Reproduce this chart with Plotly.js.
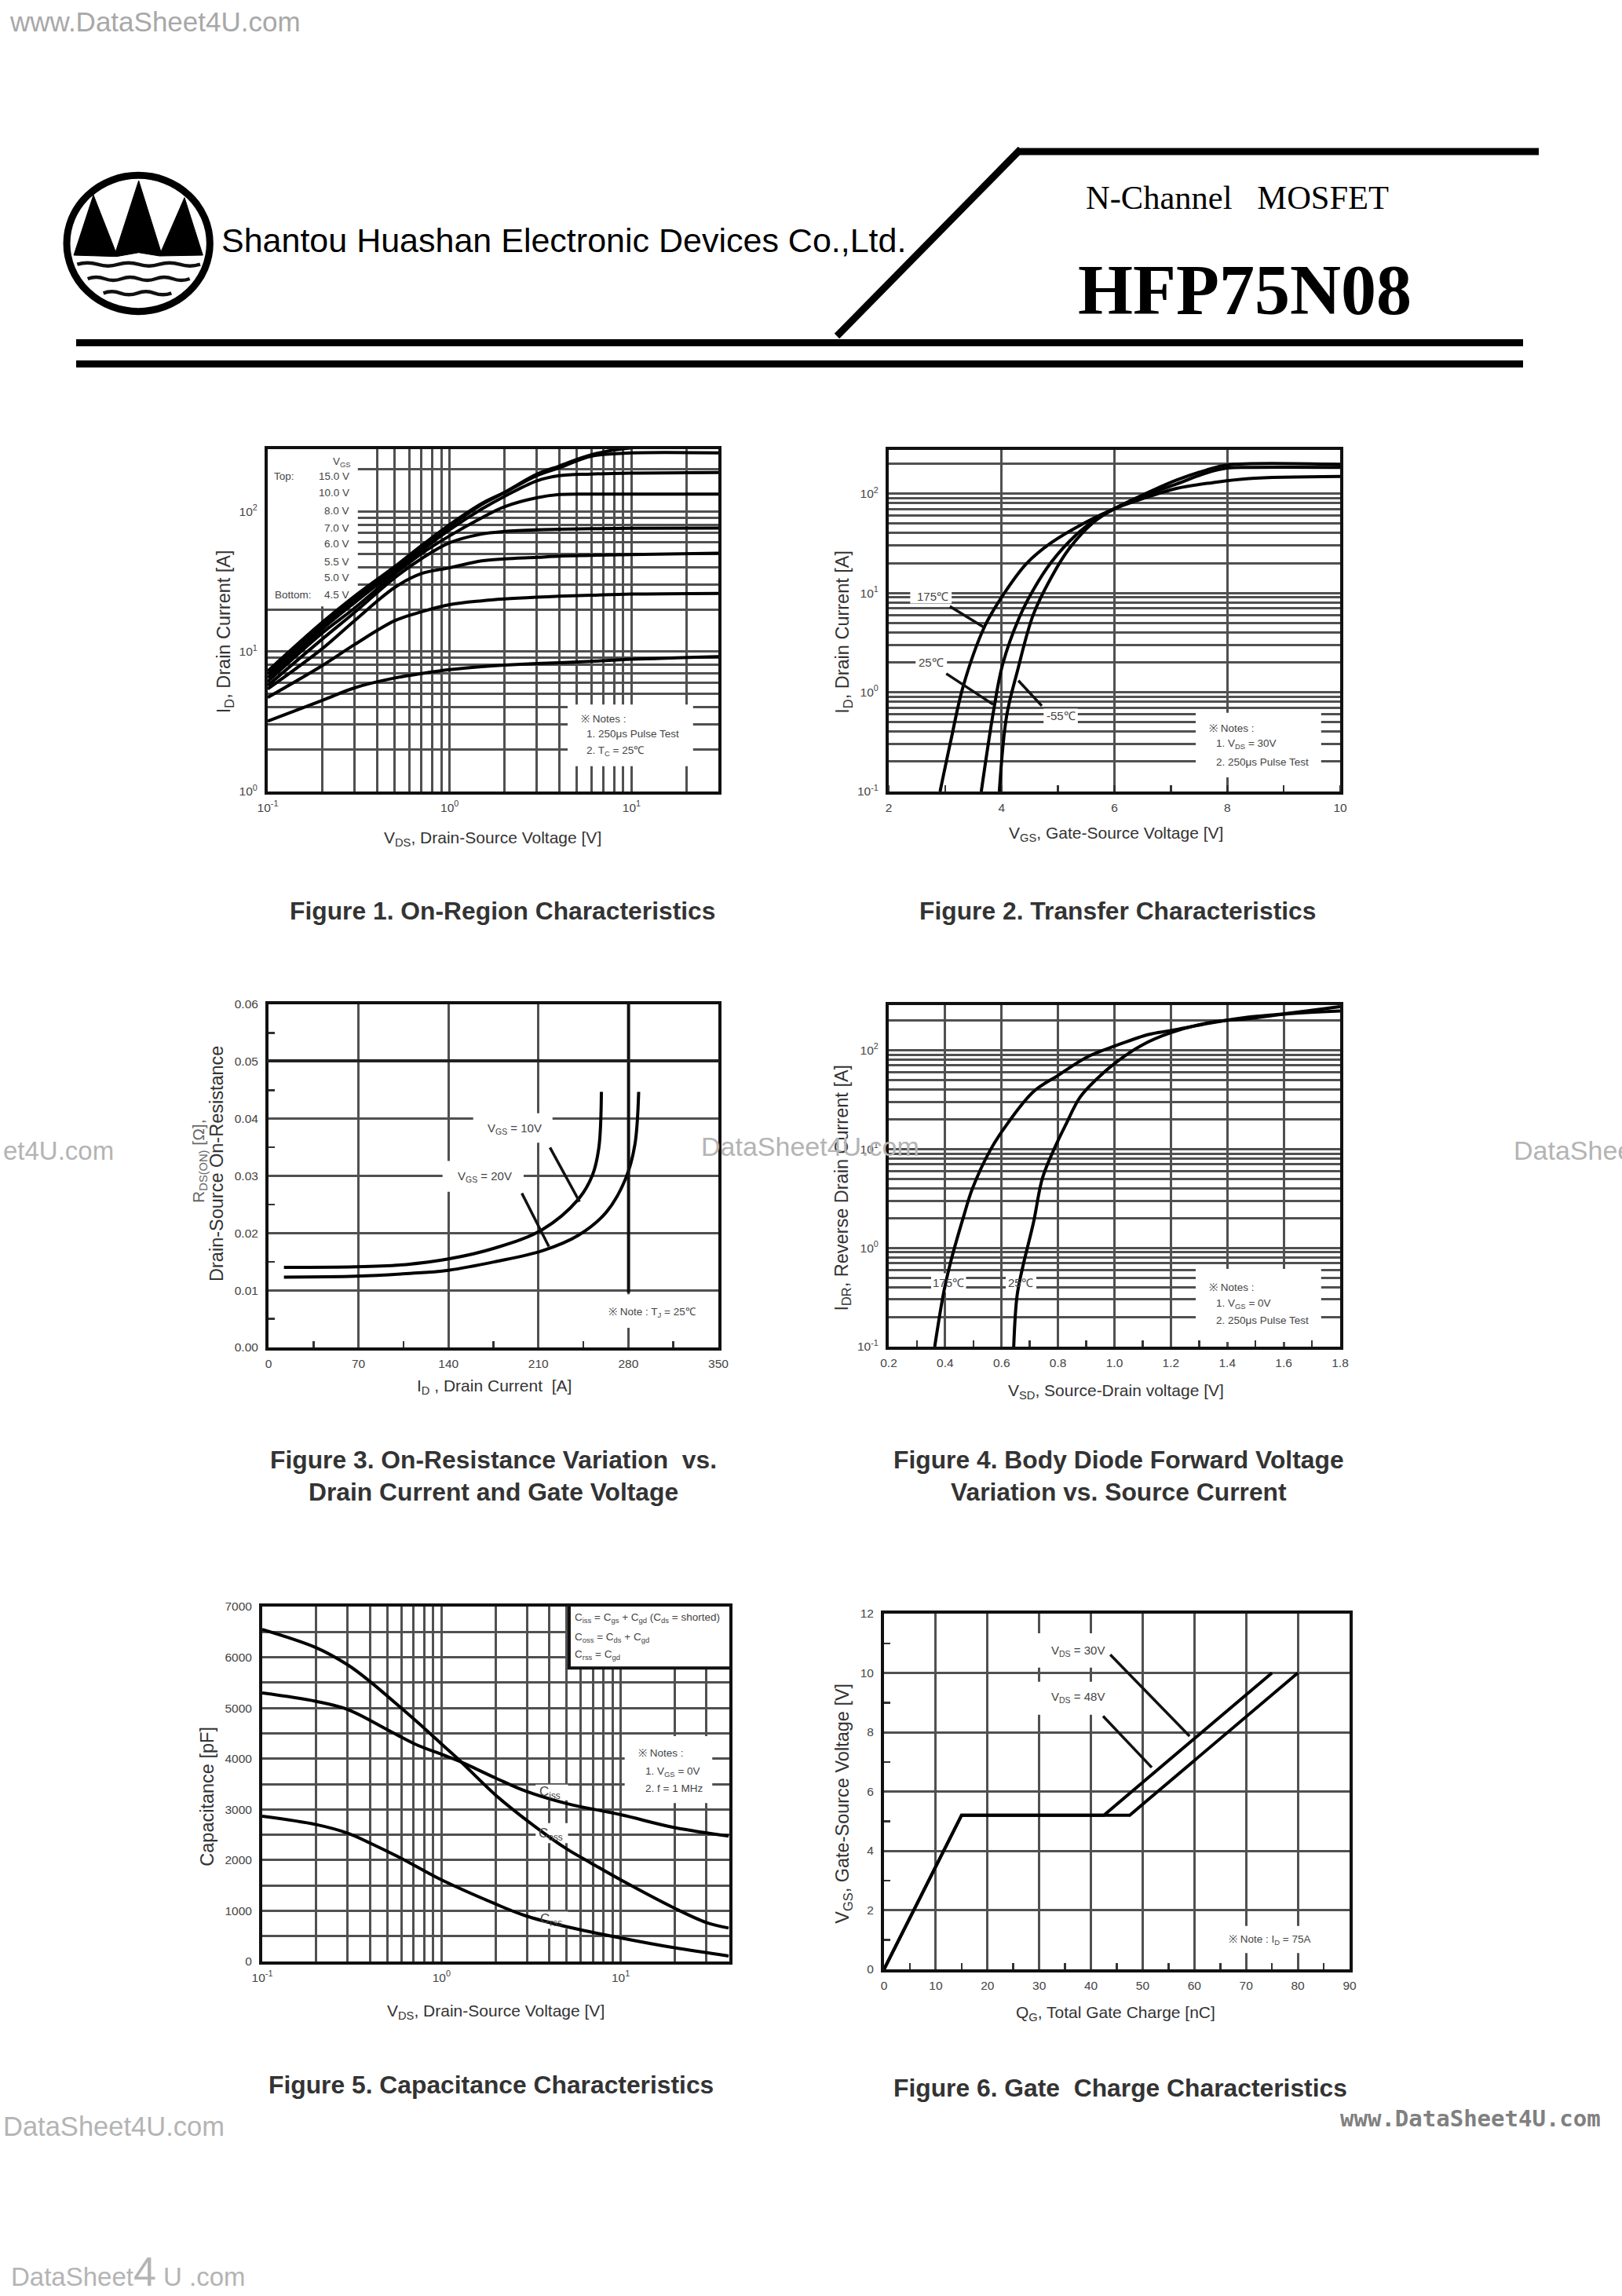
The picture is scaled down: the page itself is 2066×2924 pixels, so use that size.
<!DOCTYPE html>
<html><head><meta charset="utf-8">
<script src="https://cdn.plot.ly/plotly-3.0.1.min.js"></script>
<style>html,body{margin:0;padding:0;background:#fff}#g{width:2066px;height:2924px}</style>
</head><body><div id="g"></div>
<script>
// ---------- data ----------
const fig1V = [0.1,0.2,0.3,0.5,0.7,1,1.5,2,3,4,6,10,30];
const fig1_45V = [3.18,4.48,5.5,6.47,6.95,7.42,7.8,8.0,8.2,8.3,8.5,8.8,9.2];
const fig1_50V = [4.7,7.95,11.2,16.6,19.2,21.6,23,23.7,24.4,24.8,25.2,25.7,26];
const fig1_55V = [5.4,10.5,16.6,28.7,36,39.6,44.4,45.8,47,48,48.6,49.3,50.3];
const fig1_60V = [5.7,12.3,19,33.7,46,59.8,69,72,74,74.6,75.3,75.9,76];
const fig1_70V = [6.1,13.6,20.4,35.8,50,67,90,108,125,132,133,133,133];
const fig1_80V = [6.5,14.5,22.3,37.5,52.5,74,104,128,165,180,185,188,190];
const fig1_100V = [6.9,15.3,23.5,39,55,78,112,136,180,205,248,262,262];
const fig1_150V = [7.25,16.2,24.8,40.5,57,80.6,114,137,184,211,254,285,290];

const fig2_175X = [2.91,3.1,3.32,3.7,4.02,4.44,4.88,5.45,6,6.6,7.1,7.74,8.38,10];
const fig2_175Y = [0.1,0.324,1.15,4.6,9.4,19.7,32,50,70.5,93,113,129,142,149];
const fig2_25X = [3.64,3.86,4.02,4.31,4.56,4.88,5.33,5.64,6,6.6,7.1,7.62,8,8.38,10];
const fig2_25Y = [0.1,0.66,1.92,5.6,10.7,20.4,38.9,53.7,70.5,99,125,161,181,184,184];
const fig2_m55X = [3.96,4.09,4.28,4.56,4.88,5.2,5.64,6,6.6,7.1,7.62,8,10];
const fig2_m55Y = [0.1,0.58,1.63,6,14.3,28,52,70.5,103,137,172,194,196];

const fig3_10X = [12,68,107,140,176.5,213,241,252,257,259];
const fig3_10Y = [0.0140,0.0141,0.0145,0.01547,0.0174,0.0206,0.0259,0.0301,0.0349,0.0447];
const fig3_20X = [12,68,107,140,176.5,213,241,263,278,285,288];
const fig3_20Y = [0.0123,0.01246,0.0129,0.0135,0.015,0.0169,0.0196,0.0237,0.0296,0.0354,0.0447];

const fig4_175X = [0.363,0.395,0.42,0.465,0.496,0.56,0.624,0.713,0.802,0.904,1.005,1.12,1.2,1.349,1.476,1.603,1.8];
const fig4_175Y = [0.1,0.356,0.728,2.06,3.93,9.75,18.6,38,56,85.5,111,144,158,190,216,234,275];
const fig4_25X = [0.643,0.655,0.675,0.713,0.745,0.789,0.827,0.878,0.942,1.005,1.094,1.2,1.349,1.476,1.603,1.8];
const fig4_25Y = [0.1,0.33,0.64,1.8,5.1,10.4,17.5,33.4,52.6,75,111,150,193,208,231,249];

const fig5CossX = [0.1,0.2,0.3,0.4,0.6,0.82,1,1.25,2,3.3,5,6.8,10,20,30,40];
const fig5CossY = [6550,6190,5850,5520,4990,4570,4290,3980,3285,2670,2220,1945,1610,1050,770,660];
const fig5CissX = [0.1,0.2,0.3,0.5,0.71,1,1.25,2,2.9,5,10,20,40];
const fig5CissY = [5295,5130,4970,4570,4290,4085,3955,3620,3370,3115,2895,2640,2475];
const fig5CrssX = [0.1,0.2,0.3,0.4,0.6,1,2,2.9,5,10,20,40];
const fig5CrssY = [2865,2700,2530,2335,2030,1610,1135,910,685,465,270,110];

const fig6_30X = [0,15,42.5,75];
const fig6_48X = [0,15,47.5,80];
const fig6Y = [0,5.2,5.2,10];

const decadeMultipliers = [2,3,4,5,6,7,8,9];
const captions = ['Figure 1. On-Region Characteristics','Figure 2. Transfer Characteristics',
 'Figure 3. On-Resistance Variation  vs.','Drain Current and Gate Voltage',
 'Figure 4. Body Diode Forward Voltage','Variation vs. Source Current',
 'Figure 5. Capacitance Characteristics','Figure 6. Gate  Charge Characteristics'];

// ---------- layout helpers ----------
const W=2066,H=2924;
const FONT='"Liberation Sans", Arial, sans-serif', SERIF='"Liberation Serif", serif';
const frames=[[341,572,915,1008],[1132,573,1707,1008],[342,1279,915,1716],[1132,1280,1707,1715],[334,2046,929,2498],[1126,2055,1719,2508]];
const zooms=[[240,540,2.178,2.8],[1040,540,2.178,2.8],[240,1250,2.178,2.8],[1040,1250,2.178,2.8],[230,2020,2.178,2.75],[1040,2020,2.178,2.75]];
const ranges=[[[-1,1.477],[0,2.445]],[[2,10],[-1,2.44]],[[0,350],[0,0.06]],[[0.2,1.8],[-1,2.456]],[[-1,1.606],[0,7000]],[[0,90],[0,12]]];
const logs=[[1,1],[0,1],[0,0],[0,1],[1,0],[0,0]];
const px=x=>x/W, py=y=>1-y/H;
const zx=(f,x)=>zooms[f][0]+x/zooms[f][2];
const zy=(f,y)=>zooms[f][1]+y/zooms[f][3];
const GRID='#505050', GW=3, TXT='#333', SMALL='#444', XT=21, YT=23.5;

const ann=[], shapes=[];
function text(x,y,t,o={}){ann.push({xref:'paper',yref:'paper',x:px(x),y:py(y),text:t,showarrow:false,
  xanchor:o.a||'center',yanchor:'middle',textangle:o.r||0,font:{family:o.f||FONT,size:o.s||XT,color:o.c||TXT},
  bgcolor:o.bg||'rgba(0,0,0,0)'});}
function ztext(f,x,y,t,o={}){text(zx(f,x),zy(f,y),t,Object.assign({s:13.5,c:SMALL},o));}
function toData(f,axis,p){const fr=frames[f],r=ranges[f][axis],lg=logs[f][axis];
  const t=axis===0?(p-fr[0])/(fr[2]-fr[0]):(fr[3]-p)/(fr[3]-fr[1]);
  const v=r[0]+t*(r[1]-r[0]);return lg?Math.pow(10,v):v;}
function box(f,x0,y0,x1,y1,o={}){const n=f===0?'':String(f+1);
  shapes.push({type:'rect',layer:'between',xref:'x'+n,yref:'y'+n,
   x0:toData(f,0,zx(f,x0)),x1:toData(f,0,zx(f,x1)),y0:toData(f,1,zy(f,y0)),y1:toData(f,1,zy(f,y1)),
   fillcolor:'#fff',line:o.line||{width:0}});}
function leader(f,x0,y0,x1,y1,o={}){shapes.push({type:'line',xref:'paper',yref:'paper',layer:'above',
   x0:px(zx(f,x0)),y0:py(zy(f,y0)),x1:px(zx(f,x1)),y1:py(zy(f,y1)),line:{color:o.c||'#111',width:o.w||3.5}});}
function logTicks(first,last,maxV){const v=[],t=[],mv=[];
  for(let d=first;d<=last;d++){v.push(Math.pow(10,d));t.push('10<sup>'+d+'</sup>');
    for(const m of decadeMultipliers){const val=m*Math.pow(10,d);if(val<=maxV)mv.push(val);}}
  return {tickmode:'array',tickvals:v,ticktext:t,minor:{tickmode:'array',tickvals:mv,showgrid:true,gridcolor:GRID,gridwidth:GW,ticks:''}};}

function axis(f,ax,extra){const fr=frames[f];
  const dom=ax==='x'?[px(fr[0]),px(fr[2])]:[py(fr[3]),py(fr[1])];
  const n=f===0?'':String(f+1);
  return Object.assign({domain:dom,anchor:(ax==='x'?'y':'x')+n,range:ranges[f][ax==='x'?0:1],
    type:logs[f][ax==='x'?0:1]?'log':'linear',showline:true,mirror:true,linecolor:'#111',linewidth:4,
    showgrid:true,gridcolor:GRID,gridwidth:GW,zeroline:false,ticks:'',ticklabelstandoff:ax==='x'?3:6,
    tickfont:{family:FONT,size:15.5,color:SMALL}},extra);}
const inner=(d)=>({dtick:d,ticks:'inside',ticklen:8,tickwidth:2.5,tickcolor:'#333',showgrid:false});

const layout={width:W,height:H,margin:{l:0,r:0,t:0,b:0},paper_bgcolor:'#fff',plot_bgcolor:'#fff',showlegend:false,
 xaxis:axis(0,'x',logTicks(-1,1,30)), yaxis:axis(0,'y',logTicks(0,2,280)),
 xaxis2:axis(1,'x',{tickvals:[2,4,6,8,10],tickmode:'array',minor:inner(1)}), yaxis2:axis(1,'y',logTicks(-1,2,280)),
 xaxis3:axis(2,'x',{tick0:0,dtick:70,minor:inner(35)}), yaxis3:axis(2,'y',{tick0:0,dtick:0.01,tickformat:'.2f',minor:inner(0.005)}),
 xaxis4:axis(3,'x',{tick0:0.2,dtick:0.2,tickformat:'.1f',minor:inner(0.1)}), yaxis4:axis(3,'y',logTicks(-1,2,286)),
 xaxis5:axis(4,'x',logTicks(-1,1,40)), yaxis5:axis(4,'y',{tick0:0,dtick:1000,minor:{dtick:500,showgrid:true,gridcolor:GRID,gridwidth:GW}}),
 xaxis6:axis(5,'x',{tick0:0,dtick:10,minor:inner(5)}), yaxis6:axis(5,'y',{tick0:0,dtick:2,minor:inner(1)}),
 annotations:ann,shapes:shapes};

// ---------- traces ----------
function line(i,x,y,name,w=4,shape='spline'){const n=i===0?'':String(i+1);
  return {type:'scatter',mode:'lines',xaxis:'x'+n,yaxis:'y'+n,x,y,name,hoverinfo:'skip',
    line:{color:'#000',width:w,shape,smoothing:1}};}
const data=[
 line(0,fig1V,fig1_45V,'4.5 V'),line(0,fig1V,fig1_50V,'5.0 V'),line(0,fig1V,fig1_55V,'5.5 V'),line(0,fig1V,fig1_60V,'6.0 V'),
 line(0,fig1V,fig1_70V,'7.0 V'),line(0,fig1V,fig1_80V,'8.0 V'),line(0,fig1V,fig1_100V,'10.0 V'),line(0,fig1V,fig1_150V,'15.0 V'),
 line(1,fig2_175X,fig2_175Y,'175°C'),line(1,fig2_25X,fig2_25Y,'25°C'),line(1,fig2_m55X,fig2_m55Y,'-55°C'),
 line(2,fig3_10X,fig3_10Y,'VGS = 10V'),line(2,fig3_20X,fig3_20Y,'VGS = 20V'),
 line(3,fig4_175X,fig4_175Y,'175°C'),line(3,fig4_25X,fig4_25Y,'25°C'),
 line(4,fig5CossX,fig5CossY,'Coss'),line(4,fig5CissX,fig5CissY,'Ciss'),line(4,fig5CrssX,fig5CrssY,'Crss'),
 line(5,fig6_30X,fig6Y,'VDS = 30V',4,'linear'),line(5,fig6_48X,fig6Y,'VDS = 48V',4,'linear')];

// ---------- figure 1 texts ----------
box(0,215,85,470,650);
ztext(0,425,135,'V<sub>GS</sub>');
ztext(0,265,187,'Top:');
['15.0 V','10.0 V','8.0 V','7.0 V','6.0 V','5.5 V','5.0 V','4.5 V'].forEach((t,i)=>
  ztext(0,450,[187,245,310,370,428,490,548,610][i],t,{a:'right'}));
ztext(0,290,610,'Bottom:');
box(0,1052,1000,1400,1220);
ztext(0,1085,1050,'※ Notes :',{a:'left'});
ztext(0,1100,1105,'1. 250μs Pulse Test',{a:'left'});
ztext(0,1100,1165,'2. T<sub>C</sub> = 25℃',{a:'left'});
text(zx(0,845),zy(0,1478),'V<sub>DS</sub>, Drain-Source Voltage [V]');
text(zx(0,100),zy(0,740),'I<sub>D</sub>, Drain Current [A]',{r:-90,s:YT});
// figure 2
box(1,1052,1030,1400,1260);
ztext(1,1085,1085,'※ Notes :',{a:'left'});
ztext(1,1105,1140,'1. V<sub>DS</sub> = 30V',{a:'left'});
ztext(1,1105,1205,'2. 250μs Pulse Test',{a:'left'});
box(1,260,590,375,640); box(1,275,825,362,880); box(1,630,1015,725,1070);
ztext(1,322,615,'175℃',{s:15}); ztext(1,318,850,'25℃',{s:15}); ztext(1,678,1040,'-55℃',{s:15});
leader(1,370,650,465,725); leader(1,360,890,490,1000); leader(1,560,915,625,1005);
text(zx(1,830),zy(1,1462),'V<sub>GS</sub>, Gate-Source Voltage [V]');
text(zx(1,75),zy(1,740),'I<sub>D</sub>, Drain Current [A]',{r:-90,s:YT});
// figure 3
box(2,1145,1115,1420,1235);
ztext(2,1160,1180,'※ Note : T<sub>J</sub> = 25℃',{a:'left'});
box(2,790,470,1010,575); box(2,705,640,930,750);
ztext(2,905,525,'V<sub>GS</sub> = 10V',{s:15}); ztext(2,822,697,'V<sub>GS</sub> = 20V',{s:15});
leader(2,1003,592,1085,785); leader(2,925,755,1000,945);
leader(2,1221,75,1221,1110,{c:'#111',w:4}); leader(2,217,283,1472,283,{c:'#222',w:4});
text(zx(2,848),zy(2,1445),'I<sub>D</sub> , Drain Current  [A]');
text(zx(2,78),zy(2,650),'Drain-Source On-Resistance',{r:-90,s:YT});
text(zx(2,29),zy(2,640),'R<sub>DS(ON)</sub> [Ω],',{r:-90,s:21,c:'#666'});
// figure 4
box(3,1052,1025,1400,1285); box(3,318,1040,415,1108); box(3,525,1040,610,1108);
ztext(3,1085,1090,'※ Notes :',{a:'left'});
ztext(3,1105,1150,'1. V<sub>GS</sub> = 0V',{a:'left'});
ztext(3,1105,1207,'2. 250μs Pulse Test',{a:'left'});
ztext(3,365,1075,'175℃',{s:15}); ztext(3,566,1075,'25℃',{s:15});
text(zx(3,830),zy(3,1462),'V<sub>SD</sub>, Source-Drain voltage [V]');
text(zx(3,72),zy(3,735),'I<sub>DR</sub>, Reverse Drain Current [A]',{r:-90,s:YT});
// figure 5
box(4,1078,65,1528,287,{line:{color:'#111',width:4}});
ztext(4,1090,112,'C<sub>iss</sub> = C<sub>gs</sub> + C<sub>gd</sub> (C<sub>ds</sub> = shorted)',{a:'left'});
ztext(4,1090,180,'C<sub>oss</sub> = C<sub>ds</sub> + C<sub>gd</sub>',{a:'left'});
ztext(4,1090,240,'C<sub>rss</sub> = C<sub>gd</sub>',{a:'left'});
box(4,1232,525,1475,760);
ztext(4,1265,585,'※ Notes :',{a:'left'});
ztext(4,1285,650,'1. V<sub>GS</sub> = 0V',{a:'left'});
ztext(4,1285,708,'2. f = 1 MHz',{a:'left'});
box(4,985,695,1075,750); box(4,985,830,1075,900); box(4,985,1140,1075,1200);
ztext(4,1025,722,'C<sub>iss</sub>',{s:17}); ztext(4,1028,868,'C<sub>oss</sub>',{s:17}); ztext(4,1028,1168,'C<sub>rss</sub>',{s:17});
text(zx(4,875),zy(4,1490),'V<sub>DS</sub>, Drain-Source Voltage [V]');
text(zx(4,75),zy(4,735),'Capacitance [pF]',{r:-90,s:YT});
// figure 6
box(5,1110,1190,1400,1285);
ztext(5,1140,1240,'※ Note : I<sub>D</sub> = 75A',{a:'left'});
box(5,600,165,815,285); box(5,600,335,815,450);
ztext(5,725,228,'V<sub>DS</sub> = 30V',{s:15}); ztext(5,725,388,'V<sub>DS</sub> = 48V',{s:15});
leader(5,815,240,1035,525); leader(5,795,455,930,635);
text(zx(5,830),zy(5,1495),'Q<sub>G</sub>, Total Gate Charge [nC]');
text(zx(5,75),zy(5,760),'V<sub>GS</sub>, Gate-Source Voltage [V]',{r:-90,s:YT});

// ---------- captions ----------
[[640,1160],[1423,1160],[628,1859],[628,1900],[1425,1859],[1425,1900],[625,2655],[1427,2659]].forEach((p,i)=>
  text(p[0],p[1],'<b>'+captions[i]+'</b>',{s:31.8,c:'#333'}));

// ---------- header ----------
text(718,306,'Shantou Huashan Electronic Devices Co.,Ltd.',{s:43,c:'#000'});
text(1576,252,'N-Channel\u00a0\u00a0\u00a0MOSFET',{s:42.5,c:'#000',f:SERIF});
text(1585,369,'<b>HFP75N08</b>',{s:90,c:'#000',f:SERIF});
const hline=(x0,y0,x1,y1,w)=>shapes.push({type:'line',xref:'paper',yref:'paper',layer:'above',x0:px(x0),y0:py(y0),x1:px(x1),y1:py(y1),line:{color:'#000',width:w}});
hline(97,436.5,1940,436.5,9); hline(97,463.5,1940,463.5,9); hline(1296,193,1960,193,9); hline(1300,190,1066,428,9);
// logo
const lx=x=>px(x/3+70), ly=y=>py(y/3+210);
const lp=pts=>pts.map((p,i)=>(i?'L':'M')+lx(p[0])+','+ly(p[1])).join(' ')+' Z';
shapes.push({type:'circle',xref:'paper',yref:'paper',x0:lx(45),x1:lx(592),y0:ly(40),y1:ly(560),line:{color:'#000',width:9},fillcolor:'#fff'});
shapes.push({type:'path',xref:'paper',yref:'paper',fillcolor:'#000',line:{color:'#000',width:1},
  path:lp([[72,345],[147,115],[232,332],[320,60],[405,332],[495,125],[565,345],[400,348],[320,335],[235,350]])});
function wave(x0,x1,y,n){const s=(x1-x0)/(2*n);let d='M'+lx(x0)+','+ly(y);
  for(let i=0;i<2*n;i++){const a=i%2?12:-12;d+=' Q'+lx(x0+s*(i+.5))+','+ly(y+a)+' '+lx(x0+s*(i+1))+','+ly(y);}return d;}
[[85,555,380,3],[125,515,435,3],[185,445,490,2]].forEach(w=>shapes.push({type:'path',xref:'paper',yref:'paper',path:wave(w[0],w[1],w[2],w[3]),line:{color:'#111',width:4.5}}));

// ---------- watermarks ----------
const WM='#b4b4b4';
text(10,28,'www.DataSheet4U.com',{a:'left',s:35,c:'#a8a8a8'});
text(2,1465,'et4U.com',{a:'left',s:33,c:WM});
text(891,1460,'DataSheet4U.com',{a:'left',s:34,c:WM});
text(1926,1465,'DataShee',{a:'left',s:34,c:WM});
text(2,2708,'DataSheet4U.com',{a:'left',s:34.5,c:WM});
text(12,2893,'DataSheet<span style="font-size:52px">4</span> U .com',{a:'left',s:33,c:WM});
text(1705,2698,'<b>www.DataSheet4U.com</b>',{a:'left',s:29,c:'#808080',f:'"DejaVu Sans Mono", monospace'});

Plotly.newPlot('g',data,layout,{staticPlot:true,displayModeBar:false}).then(()=>{
  document.querySelectorAll('#g svg text').forEach(t=>{if(!t.textContent.trim())t.remove();});
});
</script></body></html>
